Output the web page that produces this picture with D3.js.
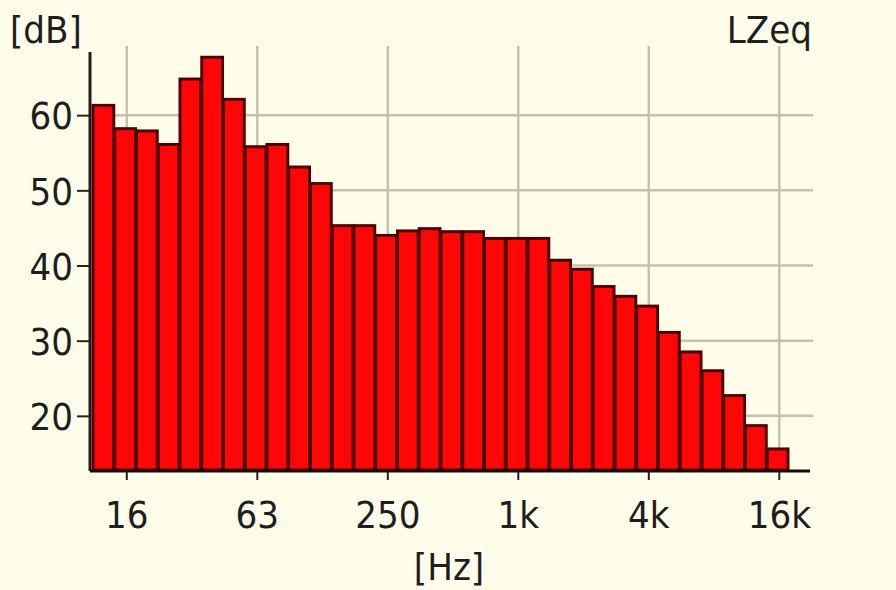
<!DOCTYPE html>
<html>
<head>
<meta charset="utf-8">
<script src="https://cdn.jsdelivr.net/npm/d3@7"></script>
<style>
  body { margin: 0; background: #fffde9; }
  svg { display: block; }
  text { font-family: "DejaVu Sans Condensed", "DejaVu Sans", sans-serif; font-stretch: condensed; fill: #1e1e1e; }
</style>
</head>
<body>
<div id="chart"></div>
<script>
// 1/3 octave bands, 12.5 Hz .. 16 kHz
var bands = ["12.5", "16", "20", "25", "31.5", "40", "50", "63", "80", "100", "125", "160",
    "200", "250", "315", "400", "500", "630", "800", "1k", "1.25k", "1.6k", "2k", "2.5k",
    "3.15k", "4k", "5k", "6.3k", "8k", "10k", "12.5k", "16k"];
var levels = [61.3, 58.2, 57.9, 56.1, 64.8, 67.7, 62.1, 55.8, 56.1, 53.1, 50.9, 45.3,
    45.3, 44.0, 44.6, 44.9, 44.5, 44.5, 43.6, 43.6, 43.6, 40.7, 39.5, 37.2,
    35.9, 34.6, 31.1, 28.5, 26.0, 22.7, 18.7, 15.6];
var xTicks = ["16", "63", "250", "1k", "4k", "16k"];
var yTicks = [20, 30, 40, 50, 60];

(function () {
    var width = 896, height = 590;
    var plot = {left: 90, right: 810, top: 52, bottom: 470};
    var fontSize = "38px";

    var svg = d3.select("#chart").append("svg")
        .attr("width", width)
        .attr("height", height);

    svg.append("rect")
        .attr("width", width)
        .attr("height", height)
        .attr("fill", "#fffde9");

    var x = d3.scaleBand()
        .domain(bands)
        .range([92, 788])
        .padding(0);

    var y = d3.scaleLinear()
        .domain([12.8, 68.4])
        .range([plot.bottom, plot.top]);

    // tick sits a bit right of the band centre, like the meter display
    function tickX(b) { return x(b) + x.bandwidth() * 0.6; }

    // grid
    svg.append("g").selectAll("line.h")
        .data(yTicks).enter().append("line")
        .attr("x1", plot.left).attr("x2", plot.right + 3)
        .attr("y1", function (d) { return y(d); })
        .attr("y2", function (d) { return y(d); })
        .attr("stroke", "#c6c1ab")
        .attr("stroke-width", 2.5);

    svg.append("g").selectAll("line.v")
        .data(xTicks).enter().append("line")
        .attr("x1", tickX).attr("x2", tickX)
        .attr("y1", 46).attr("y2", plot.bottom)
        .attr("stroke", "#c6c1ab")
        .attr("stroke-width", 2.5);

    // bars
    svg.append("g").selectAll("rect")
        .data(levels).enter().append("rect")
        .attr("x", function (d, i) { return x(bands[i]) + 1; })
        .attr("width", x.bandwidth() - 1)
        .attr("y", function (d) { return y(d); })
        .attr("height", function (d) { return y.range()[0] - y(d); })
        .attr("fill", "#ff0606")
        .attr("stroke", "#4e0000")
        .attr("stroke-width", 3);

    // axes
    var yAxis = d3.axisLeft(y).tickValues(yTicks).tickSize(13).tickPadding(4);
    var gy = svg.append("g")
        .attr("transform", "translate(" + plot.left + ",0)")
        .call(yAxis);
    gy.select(".domain").remove();
    gy.selectAll(".tick line").attr("stroke", "#222").attr("stroke-width", 2);
    gy.selectAll(".tick text")
        .style("font-size", fontSize)
        .style("font-family", null)
        .attr("fill", "#1e1e1e")
        .attr("dy", "0.36em");

    svg.append("line")
        .attr("x1", plot.left).attr("x2", plot.left)
        .attr("y1", plot.top).attr("y2", plot.bottom + 1)
        .attr("stroke", "#2a1a1a").attr("stroke-width", 3);

    svg.append("line")
        .attr("x1", plot.left).attr("x2", plot.right)
        .attr("y1", plot.bottom + 1).attr("y2", plot.bottom + 1)
        .attr("stroke", "#1a0a0a").attr("stroke-width", 3);

    var gx = svg.append("g");
    gx.selectAll("line").data(xTicks).enter().append("line")
        .attr("x1", tickX).attr("x2", tickX)
        .attr("y1", plot.bottom + 1).attr("y2", plot.bottom + 10)
        .attr("stroke", "#222").attr("stroke-width", 2);
    gx.selectAll("text").data(xTicks).enter().append("text")
        .attr("x", tickX)
        .attr("y", 528)
        .attr("text-anchor", "middle")
        .style("font-size", fontSize)
        .text(function (d) { return d; });

    // unit labels
    svg.append("text")
        .attr("x", 10).attr("y", 43)
        .style("font-size", fontSize)
        .text("[dB]");

    svg.append("text")
        .attr("x", 812).attr("y", 43)
        .attr("text-anchor", "end")
        .style("font-size", fontSize)
        .text("LZeq");

    svg.append("text")
        .attr("x", 449).attr("y", 580)
        .attr("text-anchor", "middle")
        .style("font-size", fontSize)
        .text("[Hz]");
})();
</script>
</body>
</html>
